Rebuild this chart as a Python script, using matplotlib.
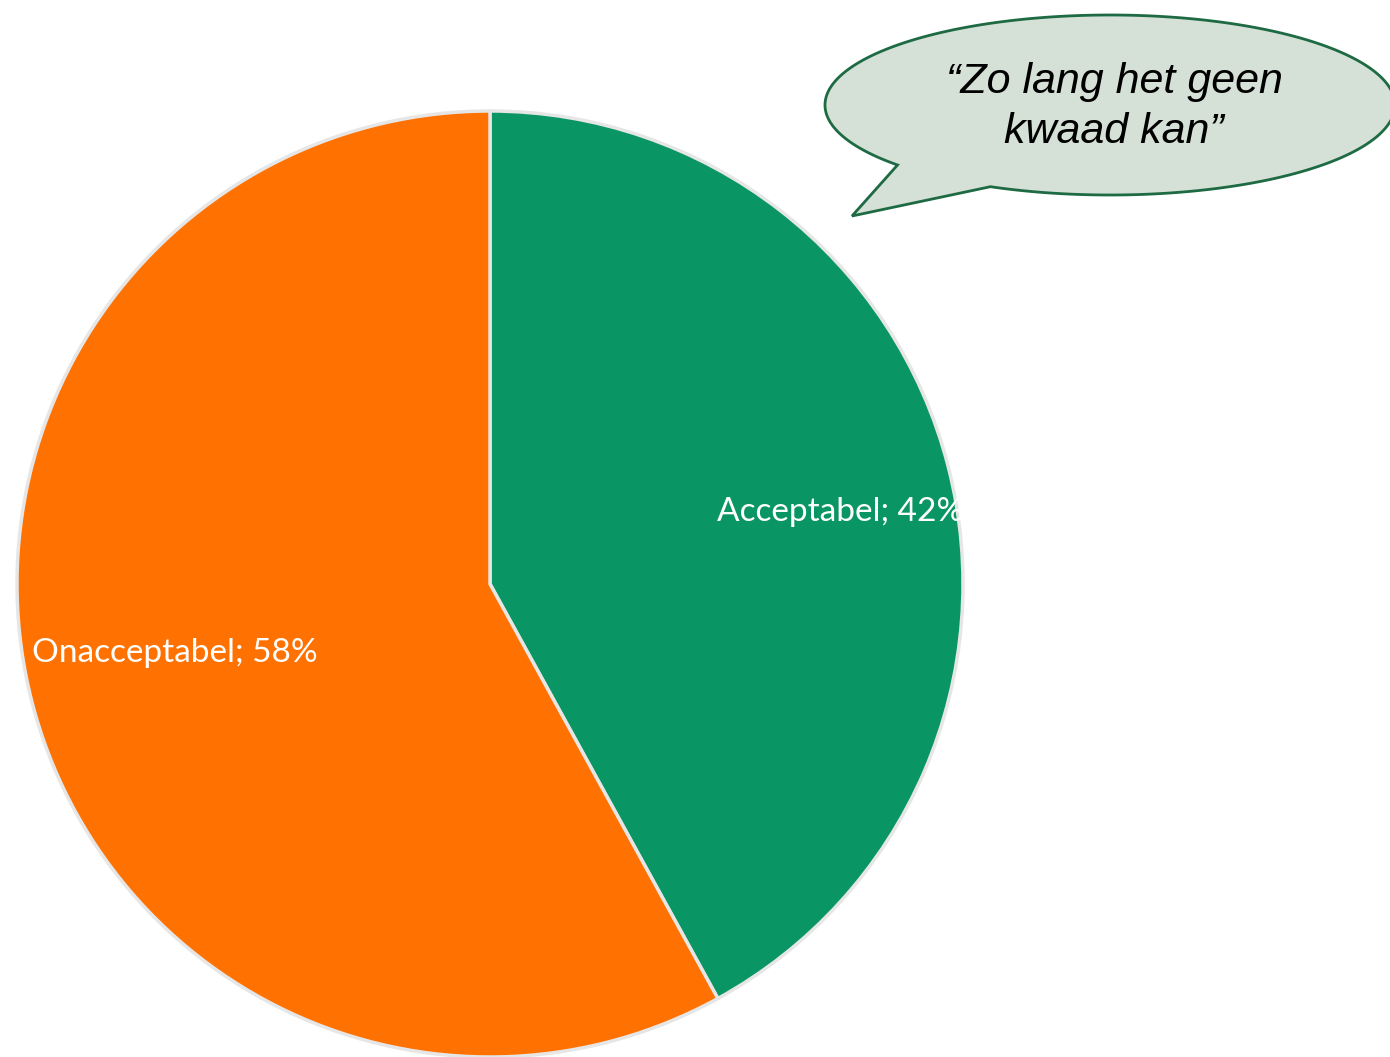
import numpy as np
import matplotlib.pyplot as plt
from matplotlib.patches import Polygon

# data
categories = ['Acceptabel', 'Onacceptabel']
shares = [42, 58]
colors = ['#0a9664', '#ff7100']
quote = '\u201cZo lang het geen\nkwaad kan\u201d'

W, H = 1390, 1057
fig = plt.figure(figsize=(W / 100, H / 100), dpi=100)
ax = fig.add_axes([0, 0, 1, 1])
ax.set_xlim(0, W)
ax.set_ylim(0, H)
ax.set_aspect('equal')
ax.axis('off')

# pie in pixel space (y flipped)
cx, cy, r = 490, H - 584, 473
wedges, _ = ax.pie(shares, colors=colors, startangle=90, counterclock=False,
                   center=(cx, cy), radius=r,
                   wedgeprops=dict(edgecolor='#e6e6e6', linewidth=2.5))
ax.set_xlim(0, W)
ax.set_ylim(0, H)

label_pos = [(840, H - 512), (175, H - 653)]
for cat, val, (lx, ly) in zip(categories, shares, label_pos):
    ax.text(lx, ly, f'{cat}; {val}%', ha='center', va='center',
            color='white', fontsize=24, family='Lato')

# speech bubble
ex, ey, a, b = 1110, 105, 285, 90
t = np.radians(np.linspace(138.2, 474.8, 300))
px = ex + a * np.cos(t)
py = ey + b * np.sin(t)
pts = np.column_stack([px, H - py])
pts = np.vstack([pts, [852, H - 216]])
ax.add_patch(Polygon(pts, closed=True, facecolor='#d5e0d6',
                     edgecolor='#1d6a43', linewidth=2, zorder=3))
ax.text(1114, H - 107, quote, ha='center', va='center', fontsize=31,
        style='italic', family='Liberation Sans', color='black',
        linespacing=1.3, zorder=4)

fig.savefig('out.png', dpi=100)
